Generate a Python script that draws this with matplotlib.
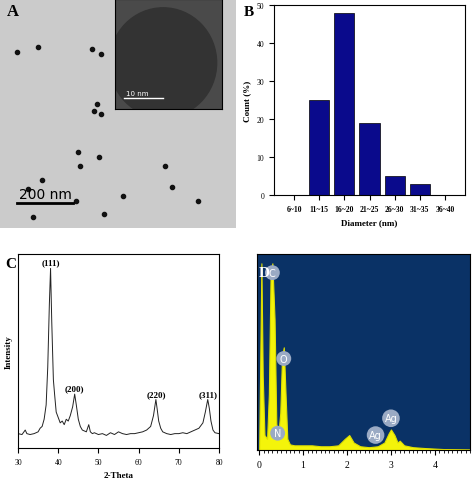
import numpy as np
import matplotlib.pyplot as plt
from matplotlib.patches import Circle

plt.rcParams['font.family'] = ['Liberation Serif', 'DejaVu Serif']

# ---- data ----
# A: particle positions (fraction of panel), TEM micrograph
dots_x = [0.07, 0.16, 0.39, 0.43, 0.41, 0.40, 0.43, 0.33, 0.42, 0.32, 0.44, 0.12, 0.18, 0.34, 0.70, 0.73, 0.84, 0.14, 0.52]
dots_y = [0.77, 0.79, 0.78, 0.76, 0.54, 0.51, 0.50, 0.33, 0.31, 0.12, 0.06, 0.17, 0.21, 0.27, 0.27, 0.18, 0.12, 0.05, 0.14]

# B: size distribution
size_bins = ['6~10', '11~15', '16~20', '21~25', '26~30', '31~35', '36~40']
size_count = [0, 25, 48, 19, 5, 3, 0]

# C: XRD pattern
tt = [30, 31, 31.8, 32.2, 33, 34, 35, 35.5, 36, 36.5, 37, 37.4, 37.8, 38.1, 38.4, 38.8, 39.1, 39.5, 40, 40.5,
      41, 41.5, 42, 42.5, 43, 43.6, 44.1, 44.5, 45, 45.5, 46, 47, 47.6, 48, 48.5, 49, 50, 51, 52, 53, 54, 55,
      56, 57, 58, 59, 60, 61, 62, 63, 63.7, 64.3, 64.6, 65, 65.5, 66, 67, 68, 69, 70, 71, 72, 73, 74, 75, 76,
      76.6, 77.2, 77.6, 78, 78.5, 79, 80]
inten = [8, 7.5, 10, 8, 7.5, 8, 9, 11, 12, 16, 24, 45, 80, 100, 70, 38, 30, 20, 17, 14,
         15, 13, 16, 15, 18, 23, 30, 24, 16, 12, 10, 9, 13, 9, 8, 8.5, 7.5, 8, 7, 8.5, 7.5, 9,
         8, 7.5, 8, 8, 8.5, 9, 10, 12, 18, 27, 22, 15, 11, 9, 8, 7.5, 8, 8, 8.5, 8, 9, 10, 11, 14,
         20, 27, 22, 15, 10, 8.5, 8]
xrd_labels = [('(111)', 38.1, 101), ('(200)', 44.1, 31), ('(220)', 64.3, 28), ('(311)', 77.2, 28)]

# D: EDX spectrum (keV, counts)
kev = [0, 0.02, 0.05, 0.08, 0.12, 0.18, 0.22, 0.26, 0.3, 0.35, 0.39, 0.42, 0.45, 0.48, 0.52, 0.56, 0.6,
       0.64, 0.7, 0.8, 1.0, 1.2, 1.4, 1.6, 1.8, 1.95, 2.05, 2.15, 2.3, 2.5, 2.7, 2.85, 2.95, 3.0, 3.08,
       3.15, 3.2, 3.3, 3.5, 3.8, 4.2, 4.8]
counts = [0, 40, 100, 40, 8, 6, 30, 95, 100, 70, 14, 10, 12, 20, 50, 55, 30, 6, 3, 2.5, 2.5, 2.5, 2,
          2, 2.5, 6, 8, 4, 2, 1.5, 2, 4, 9, 11, 8, 4, 5, 2.5, 1.5, 1, 0.5, 0.3]
edx_labels = [('C', 0.3, 95), ('O', 0.56, 49), ('N', 0.42, 9), ('Ag', 2.65, 8), ('Ag', 3.0, 17)]

W, H = 474, 481
fig = plt.figure(figsize=(W / 100, H / 100), dpi=100)

def box(l, t, r, b):
    return [l / W, 1 - b / H, (r - l) / W, (b - t) / H]

# ---- A ----
axA = fig.add_axes(box(0, 0, 236, 229))
axA.set_facecolor('#cbcbcb')
axA.set_xlim(0, 1); axA.set_ylim(0, 1)
axA.scatter(dots_x, dots_y, s=9, color='#111111')
axA.plot([0.07, 0.31], [0.11, 0.11], color='black', lw=2)
axA.text(0.08, 0.13, '200 nm', fontsize=10, family='DejaVu Sans')
axA.text(0.03, 0.93, 'A', fontsize=12, fontweight='bold')
axA.set_xticks([]); axA.set_yticks([])
for s in axA.spines.values():
    s.set_visible(False)
axI = fig.add_axes(box(115, 0, 222, 110))
axI.set_facecolor('#4a4a4a')
axI.set_xlim(0, 1); axI.set_ylim(0, 1)
axI.add_patch(Circle((0.45, 0.42), 0.5, color='#333333'))
axI.plot([0.08, 0.45], [0.1, 0.1], color='white', lw=1)
axI.text(0.1, 0.13, '10 nm', color='white', fontsize=5, family='DejaVu Sans')
axI.set_xticks([]); axI.set_yticks([])

# ---- B ----
axB = fig.add_axes(box(274, 6, 465, 196))
axB.bar(range(len(size_bins)), size_count, width=0.8, color='#0a0a8c', edgecolor='black', lw=0.5)
axB.set_xlim(-0.8, 6.8); axB.set_ylim(0, 50)
axB.set_xticks(range(len(size_bins)))
axB.set_xticklabels(size_bins, fontsize=5.5, fontweight='bold')
axB.set_yticks(range(0, 51, 10))
axB.tick_params(axis='y', labelsize=5.5)
axB.set_xlabel('Diameter (nm)', fontsize=6.5, fontweight='bold')
axB.set_ylabel('Count (%)', fontsize=6.5, fontweight='bold')
fig.text(244 / W, 1 - 16 / H, 'B', fontsize=11, fontweight='bold')

# ---- C ----
axC = fig.add_axes(box(18, 255, 219, 449))
axC.plot(tt, inten, color='#222222', lw=0.7)
axC.set_xlim(30, 80); axC.set_ylim(0, 108)
axC.set_xticks(range(30, 81, 10))
axC.set_yticks([])
axC.tick_params(labelsize=5.5)
axC.set_xlabel('2-Theta', fontsize=6.5, fontweight='bold')
axC.set_ylabel('Intensity', fontsize=6.5, fontweight='bold')
for lab, x0, y0 in xrd_labels:
    axC.text(x0, y0, lab, ha='center', va='bottom', fontsize=6.5, fontweight='bold')
fig.text(5 / W, 1 - 268 / H, 'C', fontsize=11, fontweight='bold')

# ---- D ----
axD = fig.add_axes(box(257, 255, 470, 451))
axD.set_facecolor('#0a3266')
axD.fill_between(kev, counts, color='#f4f40a', lw=0.8, edgecolor='#e0e000')
axD.set_xlim(-0.05, 4.8); axD.set_ylim(0, 105)
axD.set_xticks(range(0, 5))
axD.set_xticks(np.arange(0, 4.81, 0.1), minor=True)
axD.set_yticks([])
axD.tick_params(labelsize=7)
for lab, x0, y0 in edx_labels:
    axD.text(x0, y0, lab, ha='center', va='center', fontsize=7, color='white',
             family='DejaVu Sans',
             bbox=dict(boxstyle='circle,pad=0.25', fc='#9aaac4', ec='none'))
axD.text(-0.02, 95, 'D', color='white', fontsize=11, fontweight='bold', va='center')

fig.savefig('out.png', dpi=100)
